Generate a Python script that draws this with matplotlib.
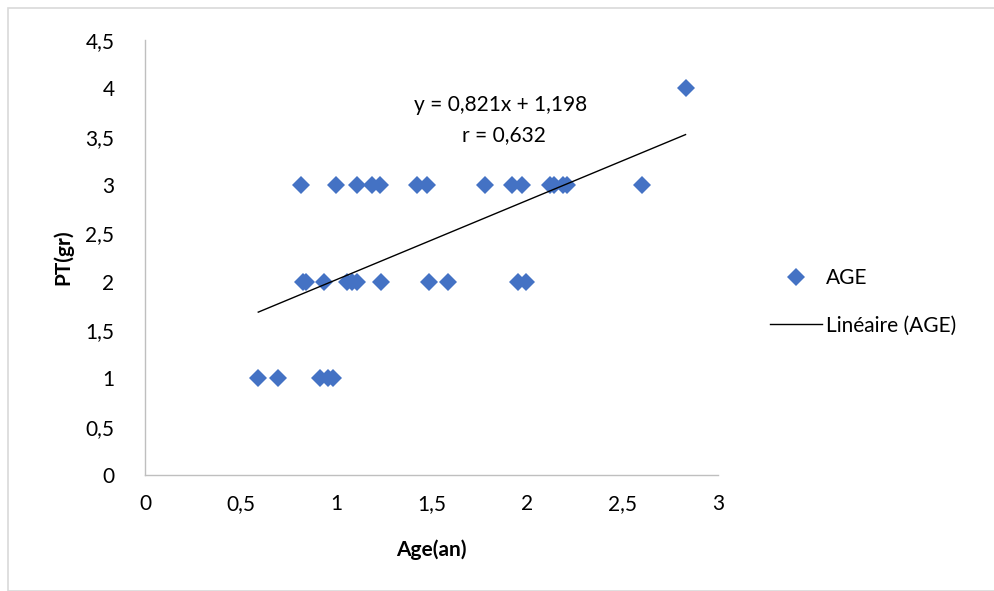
import numpy as np
import matplotlib
matplotlib.use("Agg")
import matplotlib.pyplot as plt
from matplotlib.patches import Rectangle
from matplotlib.lines import Line2D

plt.rcParams['font.family'] = ['Lato', 'DejaVu Sans']

# data
age_1 = [0.593, 0.695, 0.916, 0.958, 0.984]
age_2 = [0.827, 0.843, 0.937, 1.058, 1.084, 1.11, 1.236, 1.487, 1.586, 1.953, 1.995]
age_3 = [0.817, 1.0, 1.11, 1.19, 1.23, 1.424, 1.476, 1.78, 1.92, 1.975,
         2.12, 2.14, 2.19, 2.21, 2.60]
age_4 = [2.83]

age = np.array(age_1 + age_2 + age_3 + age_4)
pt = np.array([1] * len(age_1) + [2] * len(age_2) + [3] * len(age_3) + [4] * len(age_4), dtype=float)

slope = 0.821
intercept = 1.198
r_value = "0,632"

xticks = [0, 0.5, 1, 1.5, 2, 2.5, 3]
xticklabels = ["0", "0,5", "1", "1,5", "2", "2,5", "3"]
yticks = [0, 0.5, 1, 1.5, 2, 2.5, 3, 3.5, 4, 4.5]
yticklabels = ["0", "0,5", "1", "1,5", "2", "2,5", "3", "3,5", "4", "4,5"]

W, H = 995, 591
fig = plt.figure(figsize=(W / 100, H / 100), dpi=100)

# outer chart border
fig.patches.append(Rectangle((8 / W, 0), 1 - 8 / W, 1 - 8 / H, transform=fig.transFigure,
                             fill=False, edgecolor="#d9d9d9", linewidth=1.2))

ax = fig.add_axes([145 / W, (H - 475) / H, (718 - 145) / W, (475 - 40) / H])
ax.set_xlim(0, 3)
ax.set_ylim(0, 4.5)

blue = "#4472C4"
ax.plot(age, pt, linestyle="none", marker="D", markersize=9, color=blue,
        markeredgewidth=0, clip_on=False)

xx = np.array([age.min(), age.max()])
ax.plot(xx, slope * xx + intercept, color="black", linewidth=1)

ax.text(1.86, 3.83, "y = 0,821x + 1,198", ha="center", va="center", fontsize=15)
ax.text(1.88, 3.52, "r = " + r_value, ha="center", va="center", fontsize=15)

for side in ("top", "right"):
    ax.spines[side].set_visible(False)
for side in ("left", "bottom"):
    ax.spines[side].set_color("#bfbfbf")
    ax.spines[side].set_linewidth(1)

ax.set_xticks(xticks)
ax.set_xticklabels(xticklabels)
ax.set_yticks(yticks)
ax.set_yticklabels(yticklabels)
ax.tick_params(length=0, labelsize=15, colors="#000000")
ax.tick_params(axis="x", pad=14)
ax.tick_params(axis="y", pad=22)

ax.set_xlabel("Age(an)", fontsize=15, fontweight="bold", labelpad=18)
ax.set_ylabel("PT(gr)", fontsize=15, fontweight="bold", labelpad=9)

handles = [
    Line2D([], [], linestyle="none", marker="D", markersize=9, color=blue, markeredgewidth=0),
    Line2D([], [], color="black", linewidth=1),
]
fig.legend(handles, ["AGE", "Linéaire (AGE)"], loc="center left",
           bbox_to_anchor=(770 / W, (H - 302) / H), frameon=False, fontsize=15,
           borderpad=0, borderaxespad=0,
           handlelength=2.5, handletextpad=0.2, labelspacing=1.3)

fig.savefig("out.png", dpi=100)
